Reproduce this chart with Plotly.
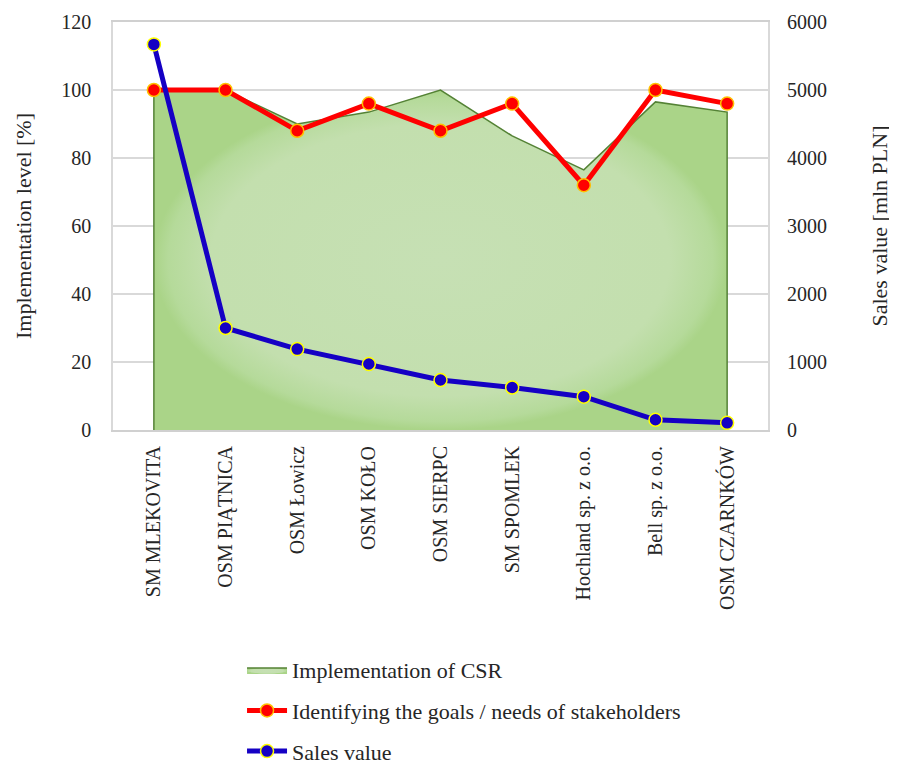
import plotly.graph_objects as go

categories = ["SM MLEKOVITA", "OSM PIĄTNICA", "OSM Łowicz", "OSM KOŁO", "OSM SIERPC",
              "SM SPOMLEK", "Hochland sp. z o.o.", "Bell sp. z o.o.", "OSM CZARNKÓW"]
csr_impl = [100, 100, 90, 93.5, 100, 86.5, 76.5, 96.5, 93.5]
stakeholders = [100, 100, 88, 96, 88, 96, 72, 100, 96]
sales_value = [5670, 1500, 1190, 970, 735, 625, 490, 150, 105]

FONT = "Liberation Serif, Times New Roman, serif"

area_x = [categories[0]] + categories + [categories[-1]]
area_y = [0] + csr_impl + [0]

fig = go.Figure()
fig.add_trace(go.Scatter(
    x=area_x, y=area_y, mode="lines", fill="toself",
    line=dict(color="#548235", width=1.5),
    fillcolor="#bcdba5",
    fillgradient=dict(type="radial",
                      colorscale=[[0, "#c6e0b4"], [0.8, "#c3dfae"], [0.95, "#b5da9a"], [1, "#aad488"]]),
    name="Implementation of CSR", legendgroup="a",
    yaxis="y",
))
fig.add_trace(go.Scatter(
    x=categories, y=stakeholders, mode="lines+markers",
    line=dict(color="#ff0000", width=5),
    marker=dict(size=13, color="#ff0000", line=dict(color="#ffc000", width=1.5)),
    name="Identifying the goals / needs of stakeholders", legendgroup="b",
    yaxis="y",
))
fig.add_trace(go.Scatter(
    x=categories, y=sales_value, mode="lines+markers",
    line=dict(color="#1500c4", width=5),
    marker=dict(size=13, color="#1500c4", line=dict(color="#ffff00", width=1.5)),
    name="Sales value", legendgroup="c",
    yaxis="y2",
))

fig.update_layout(
    width=897, height=763,
    margin=dict(l=105, r=137, t=14, b=341, autoexpand=False),
    paper_bgcolor="white", plot_bgcolor="white",
    font=dict(family=FONT, size=20, color="#262626"),
    showlegend=True,
    legend=dict(x=0.197, y=-0.537, xanchor="left", yanchor="top",
                font=dict(family=FONT, size=22, color="#262626"),
                tracegroupgap=9, itemwidth=40, bgcolor="rgba(0,0,0,0)"),
    xaxis=dict(type="category", tickangle=-90, tickfont=dict(size=20),
               showline=True, linecolor="#d0d0d0", linewidth=2, mirror=True,
               showgrid=False, ticks="", ticklabelstandoff=6, automargin=False),
    yaxis=dict(range=[0, 120], dtick=20, showgrid=True, gridcolor="#d9d9d9", gridwidth=1.5,
               showline=True, linecolor="#d9d9d9", linewidth=1.5, mirror=True,
               zeroline=False, ticks="", ticklabelstandoff=16, automargin=False,
               tickfont=dict(size=20),
               title=dict(text="Implementation level [%]", font=dict(size=22), standoff=24)),
    yaxis2=dict(range=[0, 6000], dtick=1000, overlaying="y", side="right",
                showgrid=False, zeroline=False, ticks="", ticklabelstandoff=18,
                automargin=False, tickfont=dict(size=20),
                title=dict(text="Sales value [mln PLN]", font=dict(size=22), standoff=45)),
)

fig.write_html("out.html")
